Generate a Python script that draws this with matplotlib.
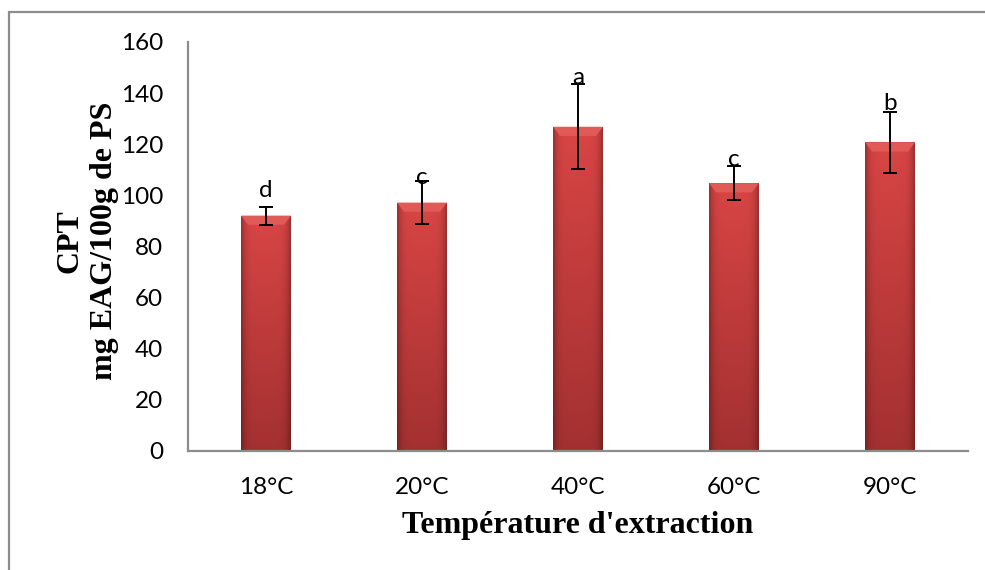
import numpy as np
import matplotlib
matplotlib.use("Agg")
import matplotlib.pyplot as plt
from matplotlib.patches import Rectangle, Polygon

categories = ["18°C", "20°C", "40°C", "60°C", "90°C"]
cpt_mean = [92.0, 97.1, 126.8, 104.7, 120.7]
cpt_err = [3.5, 8.3, 16.6, 6.6, 12.0]
letters = ["d", "c", "a", "c", "b"]
letter_y = [99.4, 104.4, 143.4, 111.4, 133.4]
yticks = [0, 20, 40, 60, 80, 100, 120, 140, 160]

fig = plt.figure(figsize=(9.85, 5.70), dpi=100)
fig.patch.set_facecolor("white")

# outer chart-area border
fig.patches.append(Rectangle((8.5 / 985, -0.05), 1.1, 1 - 12 / 570 + 0.05,
                             transform=fig.transFigure, fill=False,
                             edgecolor="#8c8c8c", linewidth=1.6))

ax = fig.add_axes([188 / 985, 1 - 450.5 / 570, 780 / 985, 408.5 / 570])
x = np.arange(len(categories))
width = 0.32
bars = ax.bar(x, cpt_mean, width=width, color="#c23a38", edgecolor="none", zorder=2)

# gradient fill for each bar
h, w = 200, 60
xs = np.linspace(-1, 1, w)
ys = np.linspace(0, 1, h)[:, None]
edge = 1 - 0.3 * np.abs(xs) ** 6
top = np.array([0.85, 0.27, 0.27])
bot = np.array([0.64, 0.19, 0.19])
img = (bot[None, None, :] * (1 - ys[..., None]) + top[None, None, :] * ys[..., None])
img = img * edge[None, :, None]
img = np.clip(img, 0, 1)
for b in bars:
    x0, y0 = b.get_x(), b.get_y()
    bw, bh = b.get_width(), b.get_height()
    im = ax.imshow(img, extent=[x0, x0 + bw, y0, y0 + bh], origin="lower",
                   aspect="auto", zorder=2.1, interpolation="bilinear")
    im.set_clip_path(b)
    # top bevel highlight
    bev = 3.6
    inset = bw * 0.14
    ax.add_patch(Polygon([[x0, y0 + bh], [x0 + bw, y0 + bh],
                          [x0 + bw - inset, y0 + bh - bev], [x0 + inset, y0 + bh - bev]],
                         closed=True, facecolor="#e05a57", edgecolor="none", zorder=2.2))

ax.errorbar(x, cpt_mean, yerr=cpt_err, fmt="none", ecolor="black",
            elinewidth=1.4, capsize=4.8, capthick=1.4, zorder=3)

for xi, lab, ly in zip(x, letters, letter_y):
    ax.text(xi, ly, lab, ha="center", va="baseline", fontsize=17.5,
            family="Lato", color="black", zorder=4)

ax.set_xlim(-0.5, len(categories) - 0.5)
ax.set_ylim(0, 160)
ax.set_yticks(yticks)
ax.set_xticks(x)
ax.set_xticklabels(categories)
ax.tick_params(axis="both", length=0, labelsize=17.5)
ax.tick_params(axis="y", pad=18)
ax.tick_params(axis="x", pad=19)
for lab in ax.get_xticklabels() + ax.get_yticklabels():
    lab.set_family("Lato")

for s in ["top", "right"]:
    ax.spines[s].set_visible(False)
for s in ["left", "bottom"]:
    ax.spines[s].set_color("#8c8c8c")
    ax.spines[s].set_linewidth(1.6)

ax.set_xlabel("Température d'extraction", fontsize=23, fontweight="bold",
              family="Liberation Serif")
ax.xaxis.label.set_va("center")
ax.xaxis.set_label_coords(0.5, -(526 - 450.5) / 408.5)

ax.set_ylabel("CPT\nmg EAG/100g de PS", fontsize=23, fontweight="bold",
              family="Liberation Serif", linespacing=1.25, ha="center")
ax.yaxis.label.set_va("center")
ax.yaxis.set_label_coords((87 - 188) / 780, (450.5 - 241) / 408.5)

fig.savefig("out.png", dpi=100, facecolor="white")
